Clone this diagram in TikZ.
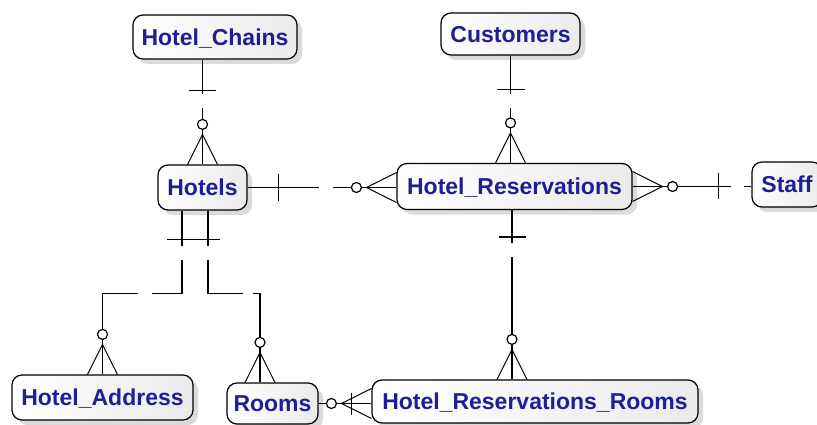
\documentclass[tikz,border=0pt]{standalone}
\usepackage{fontspec}
\setmainfont{Liberation Sans}
\usetikzlibrary{calc,shadows}
\definecolor{entitytext}{RGB}{30,30,150}
\tikzset{
  entity/.style={draw=black, line width=1.2pt, rounded corners=10pt,
    left color=white, right color=black!8,
    drop shadow={shadow xshift=5pt, shadow yshift=-5pt, fill=black!28},
    inner sep=0pt, text height=16.5pt, text depth=0pt,
    font=\fontsize{23}{27}\selectfont\bfseries, text=entitytext},
  link/.style={draw=black, line width=1.6pt},
  foot/.style={draw=black, line width=1pt},
  zmany/.pic={
    \draw[foot] (-15,0) -- (0,-30) -- (15,0);
    \draw[link, line width=1.2pt, fill=white] (0,-40) circle [radius=5pt];
  }
}
\begin{document}
\begin{tikzpicture}[x=1pt,y=-1pt]
\useasboundingbox (0,0) rectangle (817,425);
\clip (0,0) rectangle (817,425);
\fill[white] (0,0) rectangle (817,425);

% entities
\node[entity, minimum width=164pt, minimum height=44pt] (hc) at (215,37) {Hotel\_Chains};
\node[entity, minimum width=139pt, minimum height=42pt] (cust) at (510.5,34) {Customers};
\node[entity, minimum width=89pt, minimum height=45pt] (hotels) at (202.5,187.5) {Hotels};
\node[entity, minimum width=235pt, minimum height=46pt] (hr) at (514.5,186.5) {Hotel\_Reservations};
\node[entity, minimum width=70pt, minimum height=45pt] (staff) at (787,184.5) {Staff};
\node[entity, minimum width=181pt, minimum height=45pt] (ha) at (102.5,397.5) {Hotel\_Address};
\node[entity, minimum width=91pt, minimum height=41pt] (rooms) at (272.5,403.5) {Rooms};
\node[entity, minimum width=326pt, minimum height=43pt] (hrr) at (535,401.5) {Hotel\_Reservations\_Rooms};

% Hotel_Chains -- Hotels
\coordinate (l1a) at (hotels.north |- hc.south);
\draw[link] (l1a) -- ++(0,34);
\draw[link] ($(l1a)+(-13.5,31)$) -- ++(27,0);
\draw[link] ($(l1a)+(0,48)$) -- (hotels.north);
\pic at (hotels.north) {zmany};

% Customers -- Hotel_Reservations
\coordinate (l2b) at (cust.south |- hr.north);
\draw[link] (cust.south) -- ++(0,38);
\draw[link] ($(cust.south)+(-14,34)$) -- ++(28,0);
\draw[link] ($(cust.south)+(0,52)$) -- (l2b);
\pic at (l2b) {zmany};

% Hotels -- Hotel_Reservations
\coordinate (l3b) at (hotels.east -| hr.west);
\draw[link] (hotels.east) -- ++(71,0);
\draw[link] ($(hotels.east)+(31,-13)$) -- ++(0,26);
\draw[link] ($(hotels.east)+(85,0)$) -- (l3b);
\pic[rotate=90] at (l3b) {zmany};

% Hotel_Reservations -- Staff
\coordinate (l4b) at (hr.east -| staff.west);
\draw[link] (hr.east) -- ++(98,0);
\draw[link] ($(hr.east)+(86,-13)$) -- ++(0,26);
\draw[link] ($(hr.east)+(111,0)$) -- (l4b);
\pic[rotate=-90] at (hr.east) {zmany};

% Hotel_Reservations -- Hotel_Reservations_Rooms
\coordinate (l5a) at ($(hr.south)+(-2.5,0)$);
\coordinate (l5b) at (l5a |- hrr.north);
\draw[link] (l5a) -- ++(0,33);
\draw[link] ($(l5a)+(-13.5,27)$) -- ++(27,0);
\draw[link] ($(l5a)+(0,47)$) -- (l5b);
\pic at (l5b) {zmany};

% Hotels -- Hotel_Address and Hotels -- Rooms
\coordinate (l6a) at ($(hotels.south)+(-20.5,0)$);
\coordinate (l7a) at ($(hotels.south)+(5.5,0)$);
\coordinate (l7e) at ($(rooms.north)+(-12.5,0)$);
\draw[link] (l6a) -- ++(0,35);
\draw[link] (l7a) -- ++(0,35);
\draw[link] ($(hotels.south)+(-35.5,29)$) -- ++(53,0);
\draw[link] ($(l6a)+(0,49)$) -- ++(0,34) -- ++(-30,0);
\draw[link] ($(l6a)+(-44,83)$) -| (ha.north);
\pic at (ha.north) {zmany};
\draw[link] ($(l7a)+(0,49)$) -- ++(0,34) -- ++(35,0);
\draw[link] ($(l7a)+(45,83)$) -| (l7e);
\pic at (l7e) {zmany};

% Rooms -- Hotel_Reservations_Rooms
\coordinate (l8b) at (rooms.east -| hrr.west);
\draw[link] (rooms.east) -- (l8b);
\draw[link] ($(l8b)+(-20,-11)$) -- ++(0,22);
\pic[rotate=90] at (l8b) {zmany};
\end{tikzpicture}
\end{document}
